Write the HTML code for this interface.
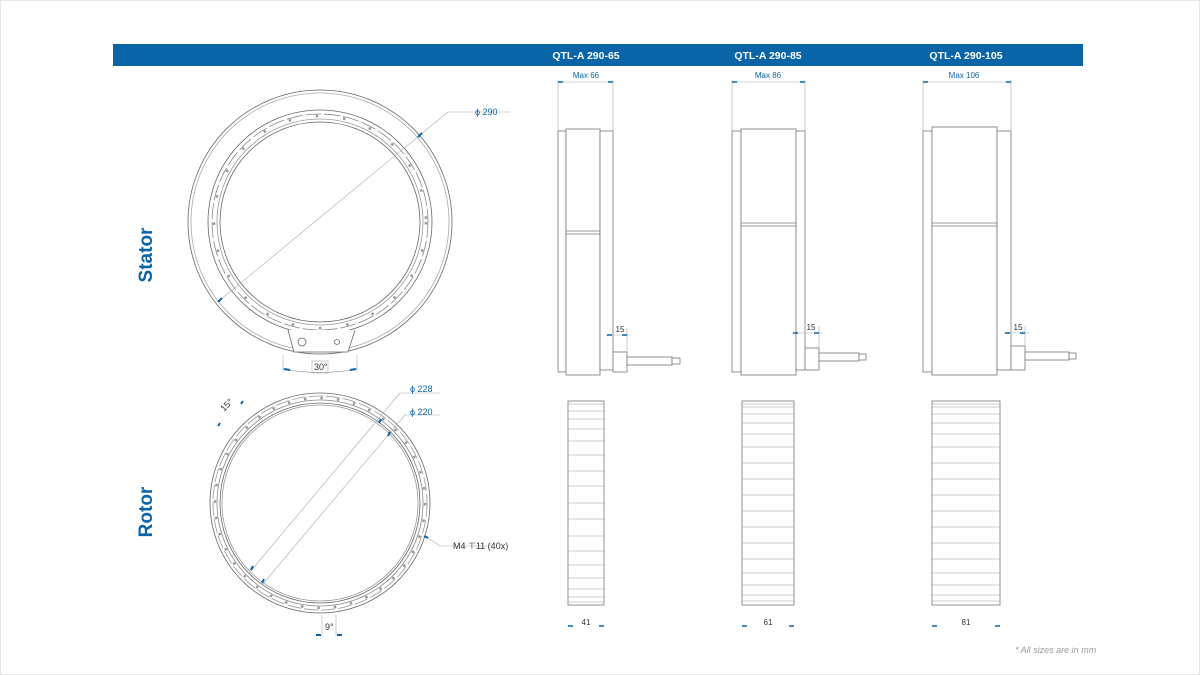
<!DOCTYPE html>
<html><head><meta charset="utf-8"><style>
html,body{margin:0;padding:0;background:#fff;}
svg{display:block;font-family:"Liberation Sans",sans-serif;}
</style></head><body>
<svg width="1200" height="675" viewBox="0 0 1200 675" xmlns="http://www.w3.org/2000/svg">
<rect x="0.5" y="0.5" width="1199" height="674" fill="#fff" stroke="#e6e6e6"/>
<rect x="113" y="44" width="970" height="22" fill="#0a64a8"/>
<g fill="#fff" font-weight="bold" font-size="10.5" text-anchor="middle">
<text x="586" y="59">QTL-A 290-65</text>
<text x="768" y="59">QTL-A 290-85</text>
<text x="966" y="59">QTL-A 290-105</text>
</g>
<g fill="#0a64a8" font-weight="bold" font-size="19" text-anchor="middle">
<text transform="translate(152,255) rotate(-90)">Stator</text>
<text transform="translate(152,512) rotate(-90)">Rotor</text>
</g>
<!-- Stator front -->
<g fill="none" stroke="#666" stroke-width="0.8">
<circle cx="320" cy="222" r="132"/>
<circle cx="320" cy="222" r="129" stroke="#aaa"/>
<circle cx="320" cy="222" r="112"/>
<circle cx="320" cy="222" r="108" stroke="#888" stroke-dasharray="16 3"/>
<circle cx="320" cy="222" r="106" stroke="#999" stroke-width="2.5" stroke-dasharray="2.5 25"/>
<circle cx="320" cy="222" r="103" stroke="#999"/>
<circle cx="320" cy="222" r="100"/>
<path d="M288 330 L294 352 L348 352 L355 330" fill="#fff"/>
<circle cx="302" cy="342" r="4"/><circle cx="337" cy="342" r="2.5"/>
</g>
<g stroke="#aaa" stroke-width="0.6" fill="none">
<line x1="220" y1="300" x2="448" y2="112"/><line x1="448" y1="112" x2="510" y2="112"/>
<line x1="283" y1="355" x2="283" y2="372"/><line x1="357" y1="355" x2="357" y2="372"/>
<path d="M283 369 Q320 376 357 369" stroke="#777"/>
<rect x="312" y="361" width="16" height="12"/>
</g>
<g stroke="#0a64a8" stroke-width="2">
<line x1="218" y1="302" x2="222" y2="298"/><line x1="418" y1="137" x2="422" y2="133"/>
<line x1="284" y1="369" x2="290" y2="370"/><line x1="350" y1="370" x2="356" y2="369"/>
</g>
<g fill="#0a64a8" font-size="9">
<text x="475" y="115">ϕ 290</text>
<text x="314" y="370" fill="#333">30°</text>
</g>
<!-- Rotor front -->
<g fill="none" stroke="#666" stroke-width="0.8">
<circle cx="320" cy="503" r="110"/>
<circle cx="320" cy="503" r="107" stroke="#999" stroke-dasharray="14 3"/>
<circle cx="320" cy="503" r="105" stroke="#999" stroke-width="2.5" stroke-dasharray="2.5 14"/>
<circle cx="320" cy="503" r="103" stroke="#888"/>
<circle cx="320" cy="503" r="100"/>
<circle cx="320" cy="503" r="98" stroke="#999"/>
</g>
<g stroke="#aaa" stroke-width="0.6" fill="none">
<line x1="250" y1="572" x2="400" y2="393"/><line x1="400" y1="393" x2="440" y2="393"/>
<line x1="262" y1="585" x2="405" y2="415"/><line x1="405" y1="415" x2="440" y2="415"/>
<line x1="425" y1="536" x2="440" y2="546"/><line x1="440" y1="546" x2="490" y2="546"/>
<line x1="322" y1="615" x2="322" y2="636"/><line x1="336" y1="615" x2="336" y2="636"/>
</g>
<g stroke="#0a64a8" stroke-width="2">
<line x1="251" y1="570" x2="253" y2="566"/><line x1="262" y1="583" x2="264" y2="579"/>
<line x1="379" y1="423" x2="381" y2="419"/><line x1="388" y1="436" x2="390" y2="432"/>
<line x1="424" y1="536" x2="428" y2="538"/>
<line x1="321" y1="635" x2="316" y2="635"/><line x1="337" y1="635" x2="342" y2="635"/>
<line x1="218" y1="426" x2="220" y2="423"/><line x1="241" y1="404" x2="243" y2="401"/>
</g>
<g fill="#0a64a8" font-size="9">
<text x="410" y="392">ϕ 228</text>
<text x="410" y="415">ϕ 220</text>
<text x="453" y="549" fill="#333">M4 ⊤11 (40x)</text>
<text x="325" y="630" fill="#333">9°</text>
<text transform="translate(224,412) rotate(-45)" fill="#333">15°</text>
</g>
<!-- Side views stator -->
<g fill="#fff" stroke="#777" stroke-width="0.8">
<rect x="558" y="131" width="8" height="241"/>
<rect x="566" y="129" width="34" height="246"/>
<rect x="600" y="131" width="13" height="239"/>
<line x1="566" y1="231" x2="600" y2="231"/><line x1="566" y1="234" x2="600" y2="234"/>
<rect x="613" y="352" width="14" height="20"/>
<rect x="627" y="357" width="45" height="8"/><rect x="672" y="358" width="8" height="6"/>

<rect x="732" y="131" width="9" height="241"/>
<rect x="741" y="129" width="55" height="246"/>
<rect x="796" y="131" width="9" height="239"/>
<line x1="741" y1="223" x2="796" y2="223"/><line x1="741" y1="226" x2="796" y2="226"/>
<rect x="805" y="348" width="14" height="22"/>
<rect x="819" y="353" width="40" height="8"/><rect x="859" y="354" width="7" height="6"/>

<rect x="923" y="131" width="9" height="241"/>
<rect x="932" y="127" width="65" height="248"/>
<rect x="997" y="131" width="14" height="239"/>
<line x1="932" y1="223" x2="997" y2="223"/><line x1="932" y1="226" x2="997" y2="226"/>
<rect x="1011" y="346" width="14" height="24"/>
<rect x="1025" y="352" width="44" height="8"/><rect x="1069" y="353" width="7" height="6"/>
</g>
<g stroke="#aaa" stroke-width="0.6">
<line x1="558" y1="80" x2="558" y2="131"/><line x1="613" y1="80" x2="613" y2="131"/><line x1="558" y1="82" x2="613" y2="82"/>
<line x1="732" y1="80" x2="732" y2="131"/><line x1="805" y1="80" x2="805" y2="131"/><line x1="732" y1="82" x2="805" y2="82"/>
<line x1="923" y1="80" x2="923" y2="131"/><line x1="1011" y1="80" x2="1011" y2="131"/><line x1="923" y1="82" x2="1011" y2="82"/>
<line x1="606" y1="335" x2="630" y2="335"/><line x1="627" y1="328" x2="627" y2="352"/>
<line x1="792" y1="333" x2="822" y2="333"/><line x1="819" y1="326" x2="819" y2="348"/>
<line x1="1004" y1="333" x2="1030" y2="333"/><line x1="1025" y1="326" x2="1025" y2="346"/>
</g>
<g stroke="#0a64a8" stroke-width="1.6">
<path d="M558 82h5M608 82h5M732 82h5M800 82h5M923 82h5M1006 82h5"/>
<path d="M607 335h5M622 335h5M793 333h5M814 333h5M1005 333h5M1020 333h5"/>
<path d="M568 626h5M599 626h5M742 626h5M789 626h5M932 626h5M995 626h5"/>
</g>
<g fill="#0a64a8" font-size="8" text-anchor="middle">
<text x="586" y="78">Max 66</text><text x="768" y="78">Max 86</text><text x="964" y="78">Max 106</text>
<text x="620" y="332" fill="#333">15</text><text x="811" y="330" fill="#333">15</text><text x="1018" y="330" fill="#333">15</text>
<text x="586" y="625" fill="#333">41</text><text x="768" y="625" fill="#333">61</text><text x="966" y="625" fill="#333">81</text>
</g>
<!-- Rotor side views -->
<g fill="#fff" stroke="#777" stroke-width="0.8">
<rect x="568" y="401" width="36" height="204"/>
<rect x="742" y="401" width="52" height="204"/>
<rect x="932" y="401" width="68" height="204"/>
</g>
<g stroke="#999" stroke-width="0.6">
<path d="M568 404H604M568 411H604M568 419H604M568 429H604M568 441H604M568 455H604M568 471H604M568 486H604M568 503H604M568 519H604M568 536H604M568 551H604M568 565H604M568 578H604M568 589H604M568 597H604M568 602H604"/>
<path d="M742 404H794M742 407H794M742 414H794M742 423H794M742 434H794M742 447H794M742 463H794M742 479H794M742 495H794M742 511H794M742 527H794M742 543H794M742 559H794M742 573H794M742 585H794M742 595H794M742 601H794"/>
<path d="M932 404H1000M932 407H1000M932 414H1000M932 423H1000M932 434H1000M932 447H1000M932 463H1000M932 479H1000M932 495H1000M932 511H1000M932 527H1000M932 543H1000M932 559H1000M932 573H1000M932 585H1000M932 595H1000M932 601H1000"/>
</g>
<text x="1015" y="653" font-size="9" font-style="italic" fill="#999">* All sizes are in mm</text>
</svg>
</body></html>
